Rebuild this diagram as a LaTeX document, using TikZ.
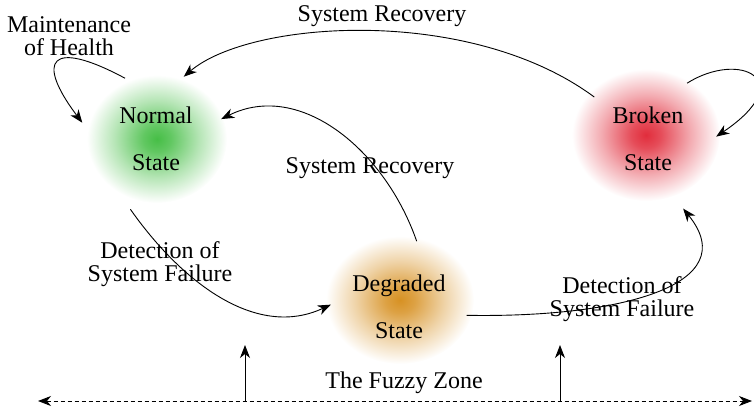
\documentclass[tikz,border=0pt]{standalone}
\usepackage{fontspec}
\setmainfont{Liberation Serif}
\usepackage{tikz}
\usetikzlibrary{arrows.meta,calc}
\definecolor{normalgreen}{RGB}{70,190,70}
\definecolor{brokenred}{RGB}{225,45,60}
\definecolor{degradedorange}{RGB}{215,145,35}
\pgfdeclareradialshading{normalglow}{\pgfpointorigin}{color(0bp)=(normalgreen); color(5bp)=(normalgreen!85!white); color(15bp)=(normalgreen!40!white); color(25bp)=(white); color(50bp)=(white)}
\pgfdeclareradialshading{brokenglow}{\pgfpointorigin}{color(0bp)=(brokenred); color(5bp)=(brokenred!85!white); color(15bp)=(brokenred!40!white); color(25bp)=(white); color(50bp)=(white)}
\pgfdeclareradialshading{degradedglow}{\pgfpointorigin}{color(0bp)=(degradedorange); color(5bp)=(degradedorange!85!white); color(15bp)=(degradedorange!40!white); color(25bp)=(white); color(50bp)=(white)}
\tikzset{
    state/.style={circle, minimum size=136pt, inner sep=0pt, align=center,
        font=\fontsize{24}{47}\selectfont},
    lbl/.style={align=center, inner sep=0pt, font=\fontsize{24}{23}\selectfont},
    fztip/.tip={Stealth[length=13pt,width=10pt,inset=4pt]},
    flow/.style={-fztip, line width=0.9pt}
}

\begin{document}
\begin{tikzpicture}[x=1pt,y=-1pt]
        \useasboundingbox (0,0) rectangle (754,408);
        % glowing states
        \shade[shading=normalglow] (157,139) ellipse [x radius=70, y radius=64];
        \shade[shading=brokenglow] (646,135) ellipse [x radius=74, y radius=66];
        \shade[shading=degradedglow] (400,300) ellipse [x radius=74, y radius=64];
        \node[state] (normal) at (156,139) {Normal\\State};
        \node[state] (broken) at (648,139) {Broken\\State};
        \node[state] (degraded) at (399,307) {Degraded\\State};
        % labels
        \node[lbl] (lbltop) at (382,16) {System Recovery};
        \node[lbl] (lblmaint) at (69,36) {Maintenance\\of Health};
        \node[lbl] (lblmid) at (370,168) {System Recovery};
        \node[lbl] (lbldet1) at (160,264) {Detection of\\System Failure};
        \node[lbl] (lbldet2) at (622,299) {Detection of\\System Failure};
        \node[lbl] (lblfuzzy) at (404,383) {The Fuzzy Zone};
        % transitions
        \draw[flow] (broken.142) .. controls (470,5) and (250,20) .. (normal.66);
        \draw[flow] (degraded.75) .. controls (385,150) and (300,80) .. (normal.17);
        \draw[flow, shorten >=10pt] (normal.117) .. controls (50,38) and (35,60) .. (normal.173);
        \draw[flow] (broken.55) .. controls (740,50) and (800,80) .. (broken.2);
        \draw[flow, shorten <=13pt] (normal.241) .. controls (180,280) and (255,340) .. (degraded.178);
        \draw[flow, shorten >=10pt] (degraded.-7) .. controls (620,318) and (745,285) .. (broken.-65);
        % fuzzy zone
        \coordinate (fzleft) at (38,401);
        \coordinate (fzright) at (752,401);
        \coordinate (fzup1) at (245,345);
        \coordinate (fzup2) at (560,345);
        \draw[fztip-fztip, line width=0.9pt, dash pattern=on 4pt off 3pt] (fzleft) -- (fzright);
        \draw[flow] (fzup1 |- fzleft) -- (fzup1);
        \draw[flow] (fzup2 |- fzleft) -- (fzup2);
    \end{tikzpicture}
\end{document}
